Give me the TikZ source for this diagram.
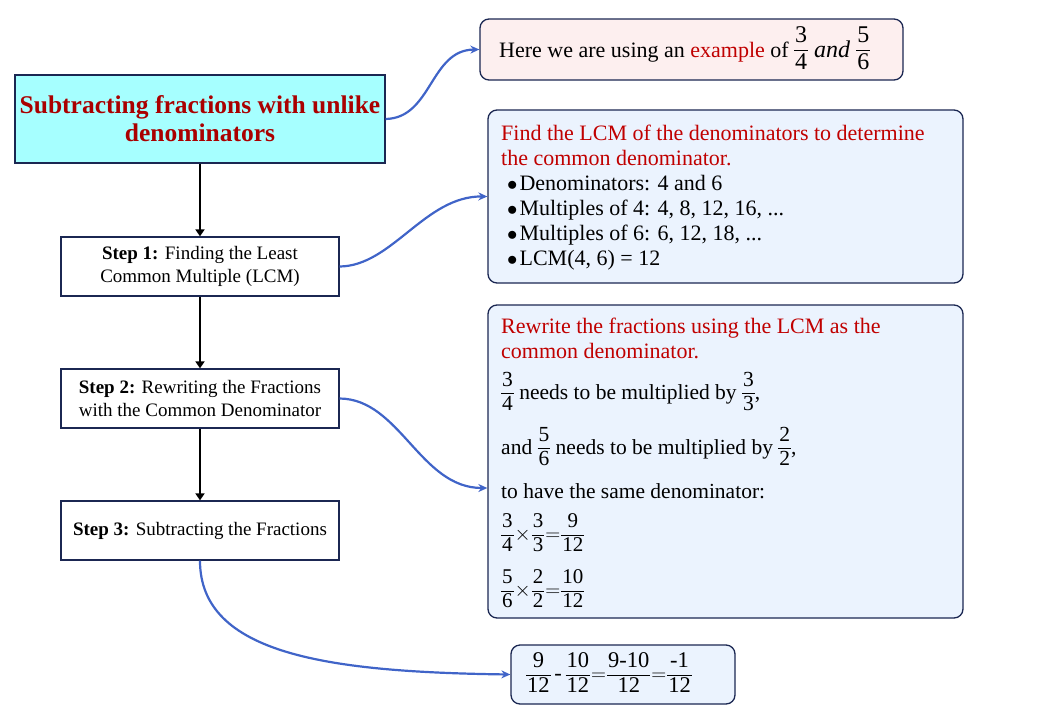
\documentclass[tikz,border=0pt]{standalone}
\usepackage{fontspec}
\setmainfont{Liberation Serif}
\usetikzlibrary{arrows.meta}
\definecolor{navy}{RGB}{27,39,82}
\definecolor{titlefill}{RGB}{166,255,255}
\definecolor{titlered}{RGB}{170,0,0}
\definecolor{txtred}{RGB}{192,0,0}
\definecolor{exfill}{RGB}{253,239,239}
\definecolor{bluefill}{RGB}{235,243,254}
\definecolor{linkblue}{RGB}{64,100,200}
\newcommand\fr[2]{\ensuremath{\vcenter{\hbox{\setlength{\tabcolsep}{1pt}\setlength{\arrayrulewidth}{0.8pt}\renewcommand\arraystretch{0.92}\begin{tabular}{c}#1\\\hline #2\end{tabular}}}}}
\newcommand\fsz[2]{\fontsize{#1}{#2}\selectfont}
\newcommand\bul{\raisebox{0.5pt}{$\bullet$}\hspace{2pt}}
\newcommand\op[1]{\hspace{1pt}$#1$\hspace{1pt}}
\begin{document}
\begin{tikzpicture}[x=1pt,y=-1pt,
  box/.style={draw=navy, line width=1.3pt, inner sep=0pt},
  stepbox/.style={box, fill=white, minimum width=278pt, minimum height=59pt, align=center, font=\fsz{19}{23}},
  rbox/.style={box, rounded corners=9pt},
  flow/.style={-{Triangle[length=7pt,width=9pt]}, line width=2pt},
  link/.style={draw=linkblue, line width=2.2pt, -{Stealth[length=9pt,width=8pt]}},
  txt/.style={inner sep=0pt, anchor=base west},
  redtxt/.style={txt, text=txtred, font=\fsz{22}{25}},
  blk/.style={txt, font=\fsz{22}{25}},
  mtxt/.style={txt, font=\fsz{21.5}{25}},
  eqn/.style={inner sep=0pt, anchor=west, font=\fsz{21}{25}}
]
\useasboundingbox (0,0) rectangle (1047,718);
% boxes
\node[box, fill=titlefill, minimum width=370pt, minimum height=88pt, align=center,
      text=titlered, font=\bfseries\fsz{25.5}{28}] (title) at (200,119)
      {Subtracting fractions with unlike\\denominators};
\node[stepbox] (s1) at (200,266.5) {\textbf{Step 1:} Finding the Least\\Common Multiple (LCM)};
\node[stepbox] (s2) at (200,398.5) {\textbf{Step 2:} Rewriting the Fractions\\with the Common Denominator};
\node[stepbox] (s3) at (200,530.5) {\textbf{Step 3:} Subtracting the Fractions};

\node[rbox, fill=exfill, minimum width=423pt, minimum height=61pt] (ex) at (691.5,49.5) {};
\node[txt, font=\fsz{22}{25}] (ext) at (499,57)
  {Here we are using an \textcolor{txtred}{example} of {\fsz{24}{28}\fr{3}{4} \textit{and} \fr{5}{6}}};

\node[rbox, fill=bluefill, minimum width=475pt, minimum height=173pt] (lcm) at (725.5,196.5) {};
\node[redtxt] (l1) at (501,140) {Find the LCM of the denominators to determine};
\node[redtxt] (l2) at (501,165) {the common denominator.};
\node[blk] (l3) at (507,190.5) {\bul Denominators: 4 and 6};
\node[blk] (l4) at (507,215.5) {\bul Multiples of 4: 4, 8, 12, 16, ...};
\node[blk] (l5) at (507,240.5) {\bul Multiples of 6: 6, 12, 18, ...};
\node[blk] (l6) at (507,265.5) {\bul LCM(4, 6) = 12};

\node[rbox, fill=bluefill, minimum width=475pt, minimum height=313pt] (rw) at (725.5,461.5) {};
\node[redtxt] (r1) at (501,333) {Rewrite the fractions using the LCM as the};
\node[redtxt] (r2) at (501,358.5) {common denominator.};
\node[mtxt] (r3) at (501,399) {\fr{3}{4} needs to be multiplied by \fr{3}{3},};
\node[mtxt] (r4) at (501,454) {and \fr{5}{6} needs to be multiplied by \fr{2}{2},};
\node[mtxt] (r5) at (501,498) {to have the same denominator:};
\node[eqn] (r6) at (501,535) {\fr{3}{4}\op{\times}\fr{3}{3}\op{=}\fr{9}{12}};
\node[eqn] (r7) at (501,591) {\fr{5}{6}\op{\times}\fr{2}{2}\op{=}\fr{10}{12}};

\node[rbox, fill=bluefill, minimum width=224pt, minimum height=59pt] (res) at (623,674.5) {};
\node[eqn, font=\fsz{22.5}{26}] (rest) at (526,675)
  {\fr{9}{12}\,-\,\fr{10}{12}\op{=}\fr{9-10}{12}\op{=}\fr{-1}{12}};

% flow arrows
\draw[flow] (title) -- (s1);
\draw[flow] (s1) -- (s2);
\draw[flow] (s2) -- (s3);
% links
\draw[link] (title.east) .. controls (432,118) and (430,50) .. (ex.west);
\draw[link] (s1.east) .. controls (392,266) and (425,196) .. (lcm.west);
\draw[link] (s2.east) .. controls (400,399) and (420,488) .. ([yshift=-26.5pt]rw.west);
\draw[link] (s3.south) .. controls (200,655) and (330,672) .. (res.west);
\end{tikzpicture}
\end{document}
